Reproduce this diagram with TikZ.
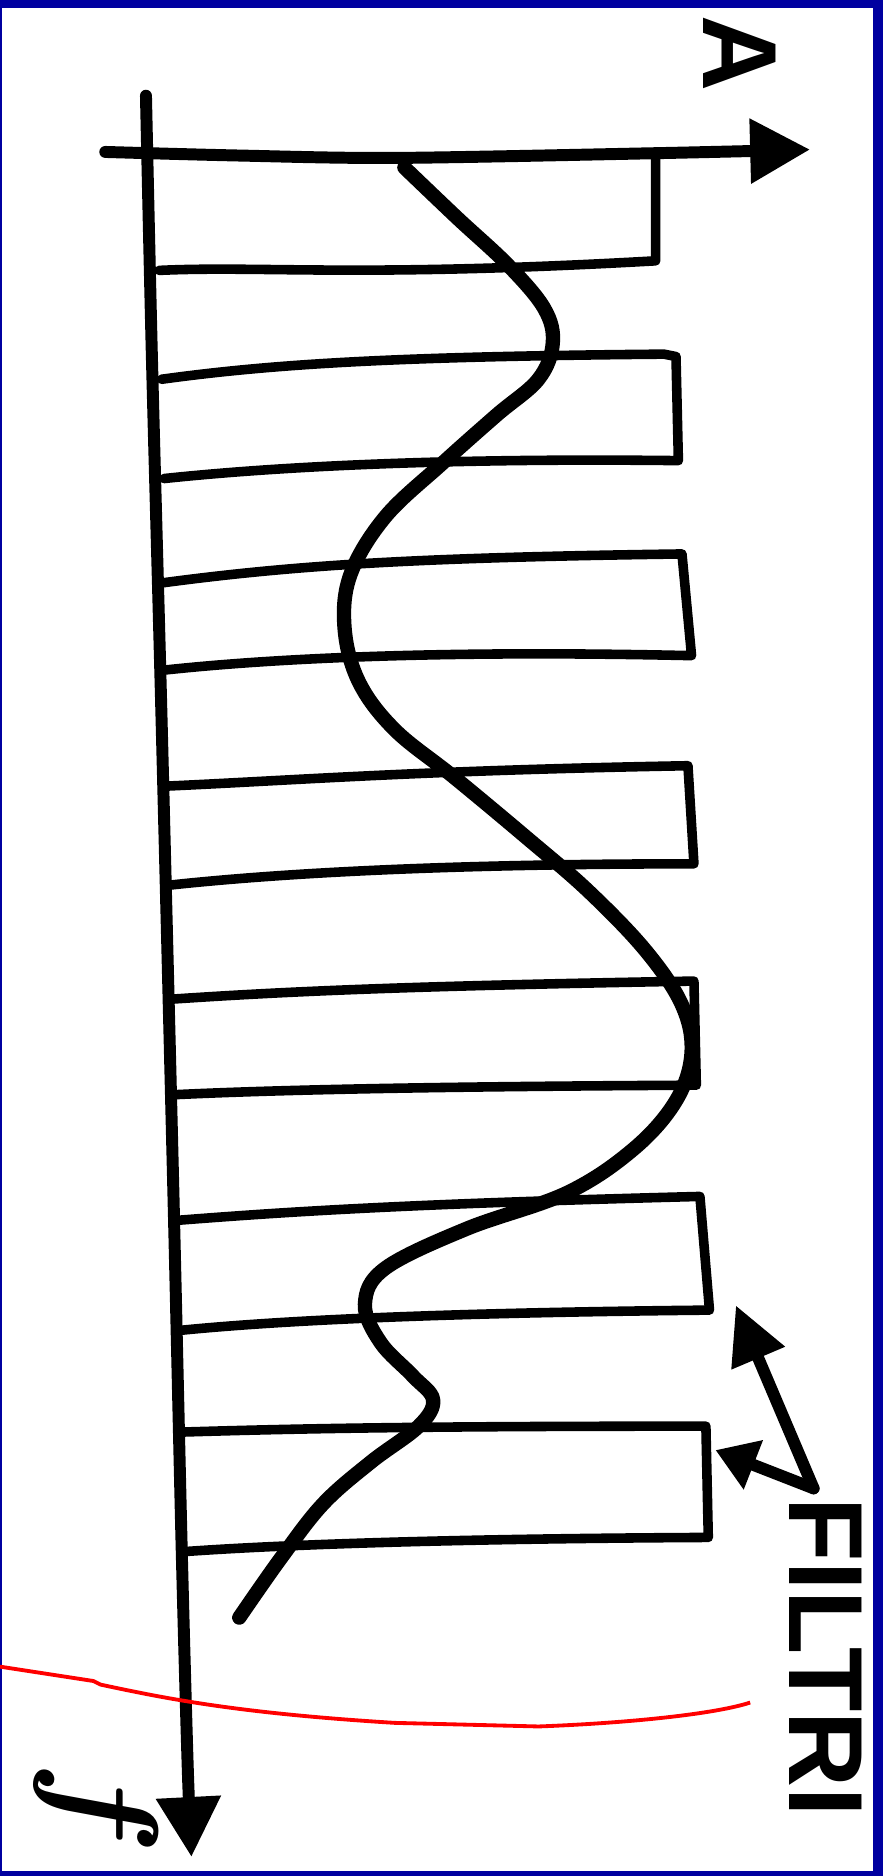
\documentclass[tikz,border=0pt]{standalone}
\usepackage{fontspec}
\newfontfamily\handfont{Liberation Sans}
\usetikzlibrary{arrows.meta}
\definecolor{frameblue}{RGB}{0,0,160}
\definecolor{redmark}{RGB}{255,0,0}
\begin{document}
\begin{tikzpicture}[x=0.5pt,y=-0.5pt,
  axisline/.style={line width=5pt,line cap=round,line join=round,-{Triangle[length=25pt,width=26pt]}},
  barline/.style={line width=4pt,line cap=round,line join=round},
  wave/.style={line width=6pt,line cap=round,line join=round},
  pointer/.style={line width=5pt,line cap=round,-{Triangle[length=24pt,width=23pt]}},
  shortpointer/.style={line width=5pt,line cap=round,-{Triangle[length=17pt,width=21pt]}},
  lettering/.style={font=\handfont\bfseries,inner sep=0pt,rotate=-90}]
\useasboundingbox (0,0) rectangle (738,1568);
% frame
\fill[white] (0,0) rectangle (738,1568);
\fill[frameblue] (0,0) rectangle (738,7);
\fill[frameblue] (0,0) rectangle (2,1568);
\fill[frameblue] (730,0) rectangle (738,1568);
\fill[frameblue] (0,1564) rectangle (738,1568);
% filters
\draw[barline] (133,226) .. controls (220,222) and (300,232) .. (548,218) -- (548,130);
\draw[barline] (135,317) .. controls (230,304) and (330,298) .. (555,296) -- (565,298) -- (567,385) .. controls (400,383) and (250,388) .. (137,400);
\draw[barline] (137,487) .. controls (250,472) and (350,466) .. (570,463) -- (578,548) .. controls (400,544) and (250,548) .. (138,560);
\draw[barline] (140,657) .. controls (250,652) and (350,644) .. (575,640) -- (580,722) .. controls (400,722) and (250,728) .. (140,740);
\draw[barline] (145,835) .. controls (250,828) and (350,824) .. (580,820) -- (582,907) .. controls (400,908) and (250,910) .. (145,915);
\draw[barline] (148,1020) .. controls (250,1012) and (350,1006) .. (585,1000) -- (593,1095) .. controls (400,1097) and (250,1102) .. (150,1112);
\draw[barline] (150,1197) .. controls (250,1194) and (350,1192) .. (590,1192) -- (592,1285) .. controls (400,1286) and (250,1290) .. (152,1297);
% axes
\coordinate (fstart) at (122,80);
\coordinate (fend) at (160,1552);
\coordinate (astart) at (88,127);
\coordinate (aend) at (677,125);
\draw[axisline] plot[smooth] coordinates {(fstart) (127,300) (135,600) (145,1000) (152,1300) (157,1480) (fend)};
\draw[axisline] plot[smooth] coordinates {(astart) (200,130) (330,132) (550,128) (aend)};
% spectrum curve
\draw[wave] plot[smooth,tension=0.6] coordinates {(338,140) (382,182) (425,222) (455,258) (462,287) (450,317) (415,347) (370,387) (322,432) (293,480) (288,525) (300,570) (330,610) (380,650) (440,700) (492,745) (540,795) (570,840) (578,880) (565,920) (530,960) (474,997) (390,1027) (322,1060) (305,1090) (318,1122) (345,1150) (362,1170) (350,1192) (310,1222) (270,1257) (235,1302) (200,1352)};
% labels
\node[lettering,font=\handfont\bfseries\fontsize{44}{44}\selectfont] (alab) at (618,45) {A};
\node[lettering,font=\bfseries\itshape\fontsize{58}{58}\selectfont] (flab) at (80,1505) {f};
\node[lettering,font=\handfont\bfseries\fontsize{44}{44}\selectfont,anchor=north] (filtri) at (721,1385) {FILTRI};
\coordinate (fork) at (680,1244);
\coordinate (tip1) at (615,1091);
\coordinate (tip2) at (598,1212);
\draw[pointer] (fork) -- (tip1);
\draw[shortpointer] (fork) -- (tip2);
% red mark
\draw[redmark,line width=1.6pt] (0,1393) -- (78,1405) -- (84,1408) .. controls (140,1420) and (200,1432) .. (330,1440) -- (450,1443) .. controls (530,1440) and (600,1432) .. (627,1423);
\end{tikzpicture}
\end{document}
